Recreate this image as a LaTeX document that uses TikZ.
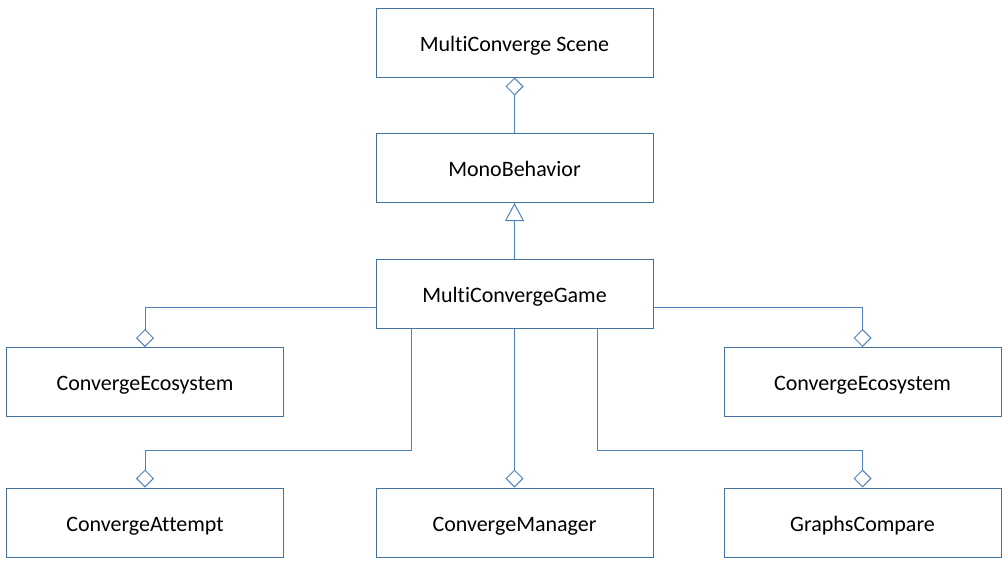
\documentclass[tikz,border=0pt]{standalone}
\usepackage{fontspec}
\setmainfont{Carlito}[Ligatures = NoCommon]
\usetikzlibrary{arrows.meta}
\definecolor{boxline}{HTML}{41719C}
\definecolor{linkline}{HTML}{4F81BD}

\begin{document}
\begin{tikzpicture}[
  x = 1pt, y = -1pt,
  every node/.style = {minimum width = 277pt, minimum height = 69pt, draw = boxline,
                       line width = 1pt, font = \fontsize{22}{26}\selectfont, inner sep = 0pt,
                       text height = 17pt, text depth = 0pt},
  agg/.style = {draw = linkline, line width = 1pt,
                -{Diamond[open, length = 18pt, width = 18pt, line width = 1pt]}},
  inh/.style = {draw = linkline, line width = 1pt,
                -{Triangle[open, length = 18pt, width = 19pt, line width = 1pt]}}
  ]
  \useasboundingbox (0,0) rectangle (1008,565);
  \node (scene)   at (514.5, 42.5) {MultiConverge Scene};
  \node (mono)    at (514.5, 168)  {MonoBehavior};
  \node (game)    at (514.5, 293.5) {MultiConvergeGame};
  \node (ecoL)    at (145, 382)    {ConvergeEcosystem};
  \node (ecoR)    at (862.5, 382)  {ConvergeEcosystem};
  \node (attempt) at (145, 522.5)  {ConvergeAttempt};
  \node (manager) at (514.5, 522.5) {ConvergeManager};
  \node (graphs)  at (862.5, 522.5) {GraphsCompare};

  \draw[agg] (mono.north) -- (scene.south);
  \draw[inh] (game.north) -- (mono.south);
  \draw[agg] ([yshift = -13.5pt]game.west) -| (ecoL.north);
  \draw[agg] ([yshift = -13.5pt]game.east) -| (ecoR.north);
  \draw[agg] ([xshift = -103.5pt]game.south) -- ++(0pt, -122pt) -| (attempt.north);
  \draw[agg] (game.south) -- (manager.north);
  \draw[agg] ([xshift = 82.5pt]game.south) -- ++(0pt, -122pt) -| (graphs.north);
\end{tikzpicture}
\end{document}
